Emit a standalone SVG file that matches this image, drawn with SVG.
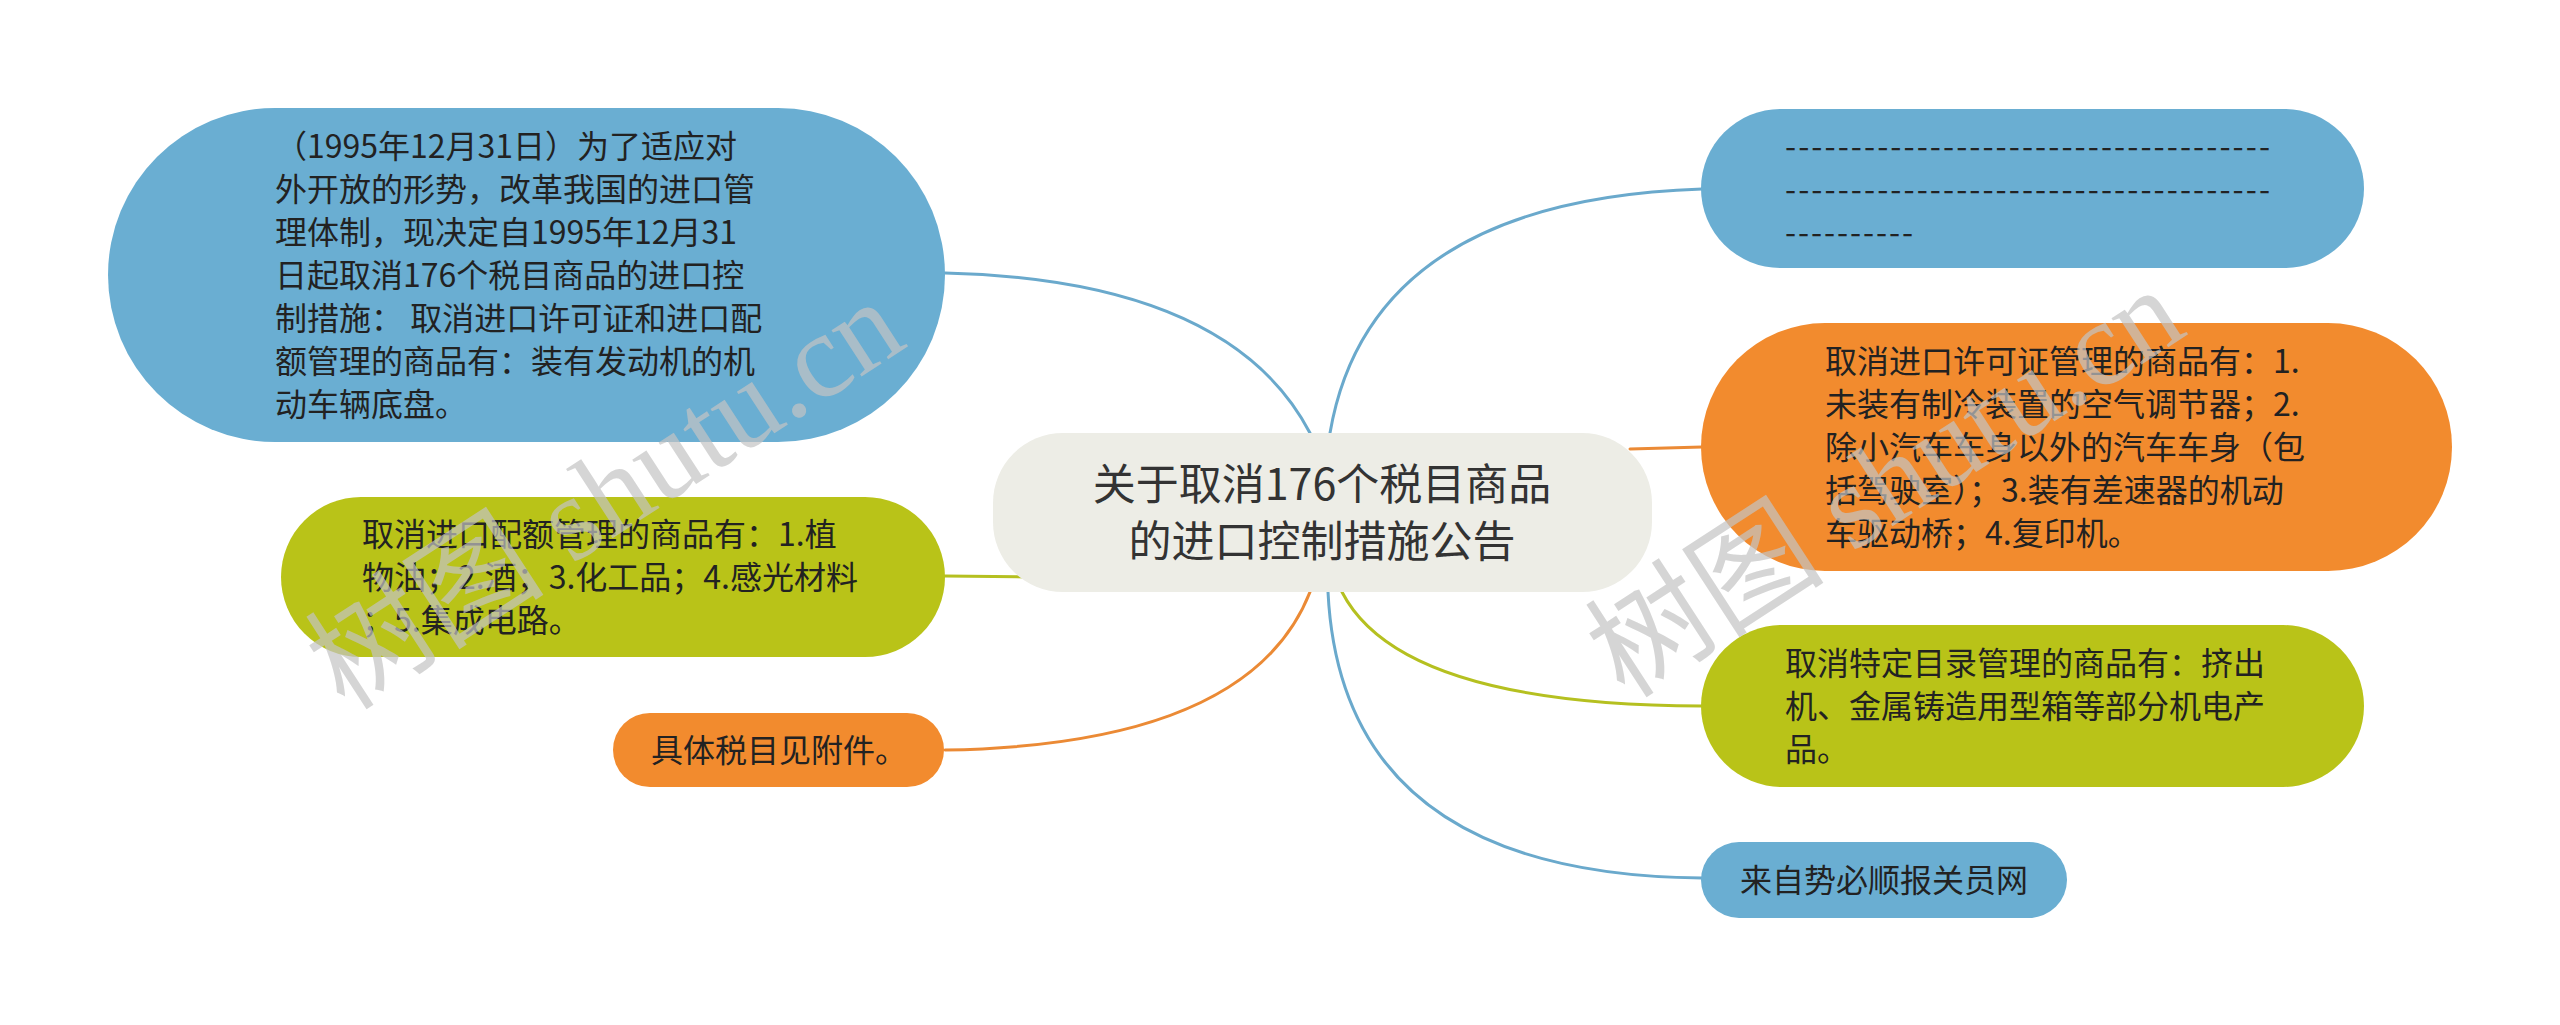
<svg xmlns="http://www.w3.org/2000/svg" width="2560" height="1025" viewBox="0 0 2560 1025">
<style>
.t{font-family:"Noto Sans CJK SC","Noto Sans",sans-serif;font-size:32px;fill:#222222;}
.root{font-family:"Noto Sans CJK SC","Noto Sans",sans-serif;font-size:43px;fill:#333333;}
.c{fill:none;stroke-width:3;stroke-linecap:round;}
.blue{fill:#6AAED2;}
.orange{fill:#F28B2E;}
.green{fill:#B9C318;}
.cb{stroke:#6AA9CC;}
.co{stroke:#EB8A35;}
.cg{stroke:#B5C020;}
.wm{font-family:"Liberation Serif","Noto Sans CJK SC",serif;font-size:120px;fill:#C4C4C4;opacity:0.7;}
</style>
<rect width="2560" height="1025" fill="#FFFFFF"/>
<g id="connectors">
<path class="c cb" d="M1310,433 Q1230,280 945,273"/>
<path class="c cg" d="M1030,577 L945,576"/>
<path class="c co" d="M1310,592 Q1250,745 945,750"/>
<path class="c cb" d="M1330,433 Q1370,200 1702,189"/>
<path class="c co" d="M1630,449 L1702,447"/>
<path class="c cg" d="M1342,592 Q1400,705 1702,706"/>
<path class="c cb" d="M1328,592 Q1342,875 1702,878"/>
</g>
<g id="root">
<rect x="993" y="433" width="659" height="159" rx="70" ry="70" fill="#EDEDE6"/>
<text class="root" x="1322" y="500" text-anchor="middle">关于取消176个税目商品</text>
<text class="root" x="1322" y="557" text-anchor="middle">的进口控制措施公告</text>
</g>
<g id="node-left-1">
<rect class="blue" x="108" y="108" width="837" height="334" rx="167" ry="167"/>
<text class="t" x="275" y="158">（1995年12月31日）为了适应对</text>
<text class="t" x="275" y="201">外开放的形势，改革我国的进口管</text>
<text class="t" x="275" y="244">理体制，现决定自1995年12月31</text>
<text class="t" x="275" y="287">日起取消176个税目商品的进口控</text>
<text class="t" x="275" y="330">制措施： 取消进口许可证和进口配</text>
<text class="t" x="275" y="373">额管理的商品有：装有发动机的机</text>
<text class="t" x="275" y="416">动车辆底盘。</text>
</g>
<g id="node-left-2">
<rect class="green" x="281" y="497" width="664" height="160" rx="80" ry="80"/>
<text class="t" x="362" y="546">取消进口配额管理的商品有：1.植</text>
<text class="t" x="362" y="589">物油；2.酒；3.化工品；4.感光材料</text>
<text class="t" x="362" y="632">；5.集成电路。</text>
</g>
<g id="node-left-3">
<rect class="orange" x="613" y="713" width="331" height="74" rx="37" ry="37"/>
<text class="t" x="779" y="762" text-anchor="middle">具体税目见附件。</text>
</g>
<g id="node-right-1">
<rect class="blue" x="1701" y="109" width="663" height="159" rx="79.5" ry="79.5"/>
<text class="t" x="1785" y="158" textLength="485" lengthAdjust="spacing">-------------------------------------</text>
<text class="t" x="1785" y="201" textLength="485" lengthAdjust="spacing">-------------------------------------</text>
<text class="t" x="1785" y="244" textLength="128" lengthAdjust="spacing">----------</text>
</g>
<g id="node-right-2">
<rect class="orange" x="1701" y="323" width="751" height="248" rx="124" ry="124"/>
<text class="t" x="1825" y="373">取消进口许可证管理的商品有：1.</text>
<text class="t" x="1825" y="416">未装有制冷装置的空气调节器；2.</text>
<text class="t" x="1825" y="459">除小汽车车身以外的汽车车身（包</text>
<text class="t" x="1825" y="502">括驾驶室）；3.装有差速器的机动</text>
<text class="t" x="1825" y="545">车驱动桥；4.复印机。</text>
</g>
<g id="node-right-3">
<rect class="green" x="1701" y="625" width="663" height="162" rx="81" ry="81"/>
<text class="t" x="1785" y="675">取消特定目录管理的商品有：挤出</text>
<text class="t" x="1785" y="718">机、金属铸造用型箱等部分机电产</text>
<text class="t" x="1785" y="761">品。</text>
</g>
<g id="node-right-4">
<rect class="blue" x="1701" y="842" width="366" height="76" rx="38" ry="38"/>
<text class="t" x="1884" y="892" text-anchor="middle">来自势必顺报关员网</text>
</g>
<g id="watermark">
<text class="wm" transform="translate(345,712) rotate(-33)">树图 shutu.cn</text>
<text class="wm" transform="translate(1625,700) rotate(-33)">树图 shutu.cn</text>
</g>
</svg>
